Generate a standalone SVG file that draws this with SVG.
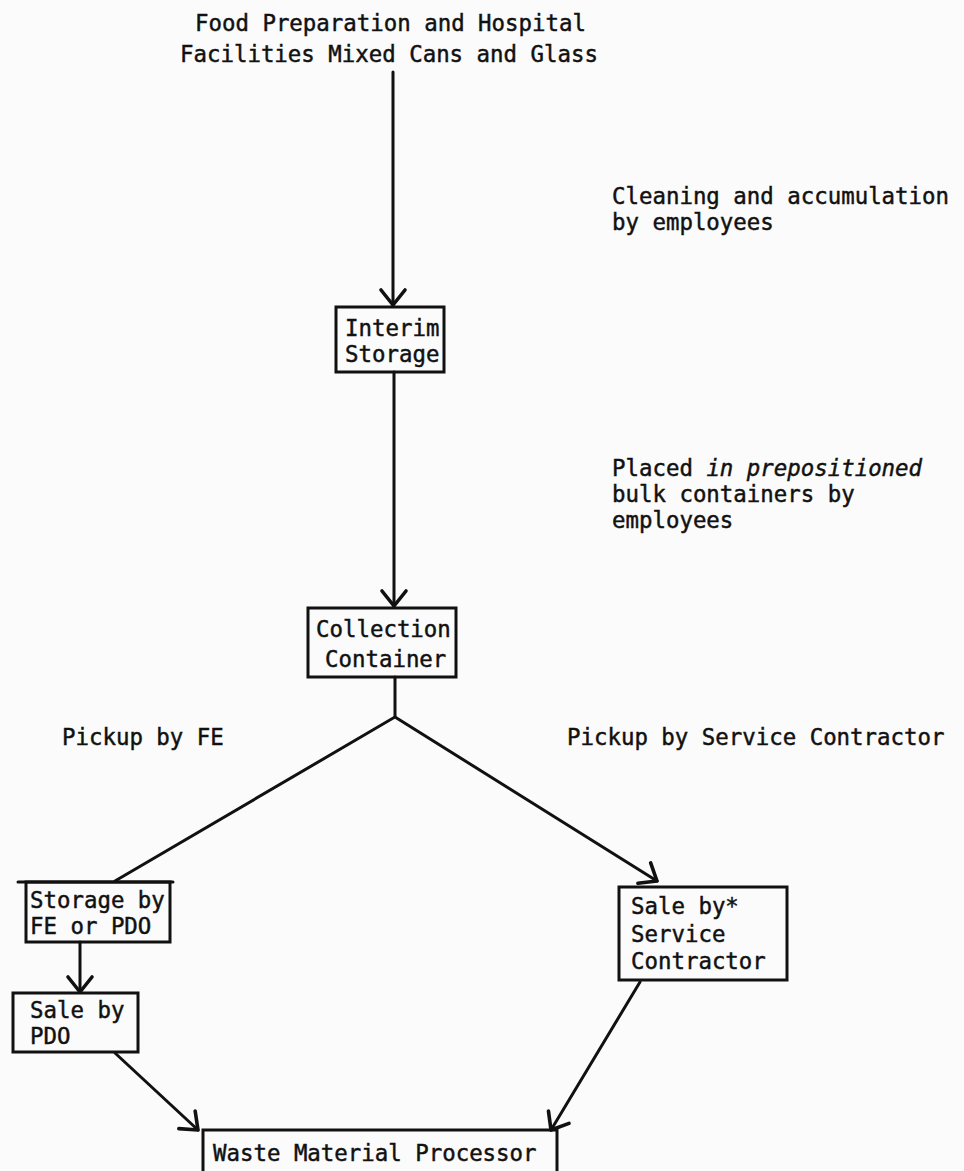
<svg xmlns="http://www.w3.org/2000/svg" width="964" height="1171" viewBox="0 0 964 1171">
  <style>
    text { font-family: "DejaVu Sans Mono", "Liberation Mono", monospace; font-size: 22.4px; fill: #111; stroke: #111; stroke-width: 0.45; }
    .box { fill: none; stroke: #111; stroke-width: 3; }
    .edge { fill: none; stroke: #111; stroke-width: 3; stroke-linecap: round; }
    .it { font-style: italic; }
  </style>
  <defs>
    <marker id="arrow" markerUnits="userSpaceOnUse" markerWidth="40" markerHeight="40" viewBox="-20 -20 40 40" refX="0" refY="0" orient="auto">
      <path d="M-15,-12 L0,0 L-15,12" fill="none" stroke="#111" stroke-width="3.6" stroke-linecap="round" stroke-linejoin="round"/>
    </marker>
  </defs>
  <rect width="964" height="1171" fill="#fbfbfb"/>

  <!-- source heading -->
  <g id="source">
    <text x="195" y="31">Food Preparation and Hospital</text>
    <text x="180" y="62">Facilities Mixed Cans and Glass</text>
  </g>

  <!-- step notes -->
  <g id="notes">
    <text x="612" y="204">Cleaning and accumulation</text>
    <text x="612" y="230">by employees</text>
    <text x="612" y="476">Placed <tspan class="it">in prepositioned</tspan></text>
    <text x="612" y="502">bulk containers by</text>
    <text x="612" y="528">employees</text>
    <text x="62" y="745">Pickup by FE</text>
    <text x="567" y="745">Pickup by Service Contractor</text>
  </g>

  <g id="connectors">
    <path class="edge" d="M393,72 L393,305" marker-end="url(#arrow)"/>
    <path class="edge" d="M394,372 L394,606" marker-end="url(#arrow)"/>
    <path class="edge" d="M395,677 L395,717 L115,881"/>
    <path class="edge" d="M395,717 L657,881" marker-end="url(#arrow)"/>
    <path class="edge" d="M80,942 L80,992" marker-end="url(#arrow)"/>
    <path class="edge" d="M115,1053 L198,1130" marker-end="url(#arrow)"/>
    <path class="edge" d="M640,982 L551,1130" marker-end="url(#arrow)"/>
  </g>

  <g id="interim-storage">
    <rect class="box" x="336" y="307" width="108" height="65"/>
    <text x="345" y="336">Interim</text>
    <text x="345" y="362">Storage</text>
  </g>

  <g id="collection-container">
    <rect class="box" x="308" y="608" width="148" height="69"/>
    <text x="316" y="637">Collection</text>
    <text x="325" y="667">Container</text>
  </g>

  <g id="storage-fe-pdo">
    <rect class="box" x="26" y="882" width="144" height="60"/>
    <line class="edge" x1="18" y1="882" x2="173" y2="882"/>
    <text x="30" y="908">Storage by</text>
    <text x="30" y="934">FE or PDO</text>
  </g>

  <g id="sale-pdo">
    <rect class="box" x="13" y="993" width="125" height="59"/>
    <text x="30" y="1018">Sale by</text>
    <text x="30" y="1044">PDO</text>
  </g>

  <g id="sale-service-contractor">
    <rect class="box" x="619" y="887" width="168" height="93"/>
    <text x="631" y="914">Sale by*</text>
    <text x="631" y="942">Service</text>
    <text x="631" y="969">Contractor</text>
  </g>

  <g id="waste-processor">
    <rect class="box" x="203" y="1130" width="354" height="60"/>
    <text x="213" y="1161">Waste Material Processor</text>
  </g>
</svg>
